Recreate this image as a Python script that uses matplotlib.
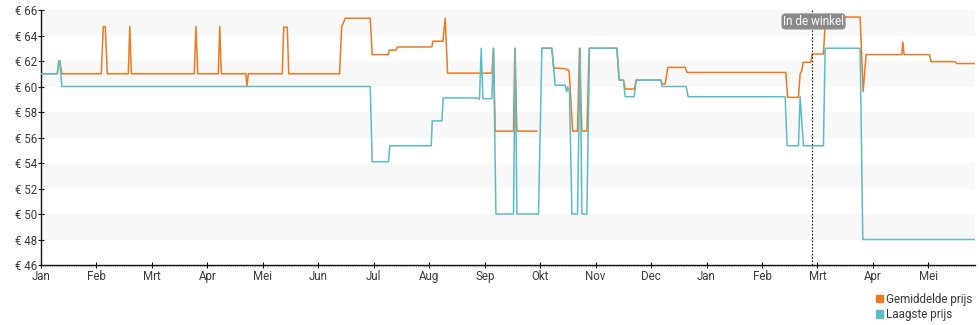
import numpy as np
import matplotlib
matplotlib.use("Agg")
import matplotlib.pyplot as plt
from matplotlib.patches import Patch

plt.rcParams['font.family'] = ['Roboto', 'DejaVu Sans']

# x positions are in months since the first January (equal month widths)
month_labels = ['Jan', 'Feb', 'Mrt', 'Apr', 'Mei', 'Jun', 'Jul', 'Aug', 'Sep',
                'Okt', 'Nov', 'Dec', 'Jan', 'Feb', 'Mrt', 'Apr', 'Mei']

avg_x = [0.0, 0.294, 0.321, 0.339, 0.375, 1.087, 1.123, 1.159, 1.195, 1.574,
         1.601, 1.628, 2.763, 2.794, 2.826, 3.196, 3.223, 3.250, 3.692, 3.713,
         3.737, 4.350, 4.377, 4.440, 4.467, 5.383, 5.422, 5.485, 5.936, 5.972,
         6.261, 6.278, 6.405, 6.423, 7.048, 7.063, 7.247, 7.288, 7.330, 8.130,
         8.159, 8.189, 8.519, 8.544, 8.580, 8.941, 8.985, 9.031, 9.211, 9.244,
         9.451, 9.469, 9.496, 9.523, 9.586, 9.673, 9.709, 9.752, 9.842, 9.884,
         10.383, 10.425, 10.502, 10.533, 10.695, 10.731, 11.176, 11.200, 11.254,
         11.302, 11.614, 11.650, 13.429, 13.462, 13.657, 13.687, 13.714, 13.741,
         13.880, 13.904, 14.107, 14.138, 14.165, 14.769, 14.823, 14.877, 15.520,
         15.538, 15.562, 16.018, 16.049, 16.481, 16.517, 16.824]
avg_price = [61.0, 61.0, 62.0, 62.0, 61.0, 61.0, 64.7, 64.7, 61.0, 61.0,
             64.7, 61.0, 61.0, 64.7, 61.0, 61.0, 64.7, 61.0, 61.0, 60.0,
             61.0, 61.0, 64.65, 64.65, 61.0, 61.0, 64.7, 65.35, 65.35, 62.5,
             62.5, 62.85, 62.85, 63.1, 63.1, 63.55, 63.55, 65.35, 61.05, 61.05,
             63.0, 56.5, 56.5, 63.0, 56.5, 56.5, np.nan, 63.0, 63.0, 61.45,
             61.4, 61.3, 61.35, 61.2, 56.5, 56.5, 63.0, 56.5, 56.5, 63.0,
             63.0, 60.5, 60.5, 59.8, 59.8, 60.5, 60.5, 60.2, 60.2,
             61.5, 61.5, 61.1, 61.1, 59.15, 59.15, 61.0, 61.2, 61.9,
             61.9, 62.55, 62.55, 64.9, 65.45, 65.45, 59.6, 62.5, 62.5,
             63.5, 62.5, 62.5, 61.95, 61.95, 61.8, 61.8]

low_x = [0.0, 0.294, 0.321, 0.339, 0.375, 5.936, 5.972, 6.266, 6.288, 7.036,
         7.054, 7.228, 7.252, 7.859, 7.906, 7.937, 7.968, 8.130, 8.159, 8.202,
         8.519, 8.550, 8.580, 8.970, 9.031, 9.211, 9.271, 9.451, 9.478, 9.496,
         9.529, 9.572, 9.673, 9.721, 9.752, 9.842, 9.889, 10.383, 10.425, 10.502,
         10.533, 10.695, 10.731, 11.176, 11.200, 11.632, 11.668, 13.417, 13.453,
         13.657, 13.687, 13.747, 14.107, 14.138, 14.769, 14.817, 16.824]
low_price = [61.0, 61.0, 62.0, 62.0, 60.0, 60.0, 54.1, 54.1, 55.35, 55.35,
             57.3, 57.3, 59.1, 59.1, 59.0, 63.0, 59.05, 59.05, 63.0, 50.0,
             50.0, 63.0, 50.0, 50.0, 63.0, 63.0, 60.1, 60.1, 59.6, 59.95,
             59.6, 50.0, 50.0, 63.0, 50.0, 50.0, 63.0, 63.0, 60.5, 60.5,
             59.2, 59.2, 60.5, 60.5, 60.0, 60.0, 59.2, 59.2, 55.35,
             55.35, 59.2, 55.35, 55.35, 63.0, 63.0, 48.0, 48.0]

in_store_x = 13.909
y_ticks = list(range(46, 67, 2))

orange = '#ec7a22'
teal = '#5cbcc7'
text_col = '#3a3a3a'

fig = plt.figure(figsize=(9.8, 3.25), dpi=100)
ax = fig.add_axes([41 / 980, 1 - 265 / 325, 934 / 980, 255 / 325])

# alternating horizontal bands
for lo in range(48, 67, 4):
    ax.axhspan(lo, lo + 2, color='#f8f8f8', zorder=0, lw=0)

ax.plot(avg_x, avg_price, color=orange, lw=1.1, zorder=3)
ax.plot(low_x, low_price, color=teal, lw=1.1, zorder=4)

ax.axvline(in_store_x, color='#222', lw=0.8, ls=(0, (1.5, 1.5)), zorder=5)
ax.text(in_store_x + 0.02, 65.1, 'In de winkel', ha='center', va='center',
        color='white', fontsize=8.5, zorder=6,
        bbox=dict(boxstyle='round,pad=0.1,rounding_size=0.3', fc='#8a8a8a',
                  ec='#9a9a9a', lw=0.6))

ax.set_xlim(0, 16.84)
ax.set_ylim(46, 66)
ax.set_xticks(range(len(month_labels)))
ax.set_xticklabels(month_labels)
ax.set_xticks(np.arange(0, 16.84, 1 / 30), minor=True)
ax.set_yticks(y_ticks)
ax.set_yticklabels([f'€ {v}' for v in y_ticks])

for side in ['top', 'right']:
    ax.spines[side].set_visible(False)
for side in ['left', 'bottom']:
    ax.spines[side].set_color('#111')
    ax.spines[side].set_linewidth(1.0)

ax.tick_params(axis='both', which='major', direction='inout', length=4,
               width=0.8, color='#111', labelsize=8.3, labelcolor=text_col)
ax.tick_params(axis='x', which='major', pad=1.5)
ax.tick_params(axis='y', which='major', pad=1)
ax.tick_params(axis='x', which='minor', direction='out', length=1.5,
               width=0.5, color='#bbb')

handles = [Patch(color=orange, label='Gemiddelde prijs'),
           Patch(color=teal, label='Laagste prijs')]
fig.legend(handles=handles, loc='upper left',
           bbox_to_anchor=(870 / 980, 1 - 287 / 325), frameon=False,
           fontsize=8.4, handlelength=0.6, handleheight=0.6,
           handletextpad=0.25, labelspacing=0.2, borderpad=0,
           labelcolor=text_col)

fig.savefig('out.png', dpi=100)
